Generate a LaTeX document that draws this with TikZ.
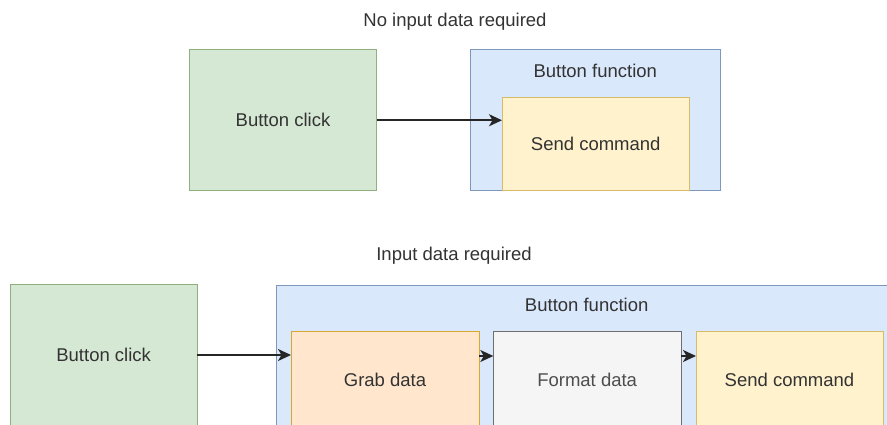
\documentclass[tikz,border=0pt]{standalone}
\usepackage{fontspec}
\setmainfont{Liberation Sans}
\usetikzlibrary{arrows.meta}

\definecolor{greenfill}{HTML}{D5E8D4}
\definecolor{greenline}{HTML}{8FAF80}
\definecolor{bluefill}{HTML}{DAE8FC}
\definecolor{blueline}{HTML}{7F97BA}
\definecolor{yellowfill}{HTML}{FFF2CC}
\definecolor{yellowline}{HTML}{D6BB6A}
\definecolor{orangefill}{HTML}{FFE6CC}
\definecolor{orangeline}{HTML}{D9A62E}
\definecolor{greyfill}{HTML}{F5F5F5}
\definecolor{greyline}{HTML}{6E6E6E}
\definecolor{txt}{HTML}{333333}
\definecolor{txtlight}{HTML}{4D4D4D}

\tikzset{
  every node/.style={inner sep=0pt, outer sep=0pt, text=txt,
    font=\fontsize{18.5}{20}\selectfont},
  box/.style={draw, line width=1pt, rectangle},
  greenbox/.style={box, fill=greenfill, draw=greenline},
  bluebox/.style={box, fill=bluefill, draw=blueline},
  yellowbox/.style={box, fill=yellowfill, draw=yellowline},
  orangebox/.style={box, fill=orangefill, draw=orangeline},
  greybox/.style={box, fill=greyfill, draw=greyline, text=txtlight},
  caption/.style={anchor=base},
  arr/.style={line width=1.6pt, draw=black!85,
    -{Stealth[length=13pt, width=12pt, inset=3.5pt]}},
}

\begin{document}
\begin{tikzpicture}[x=1pt, y=-1pt]
  \useasboundingbox (0,0) rectangle (887,425);
  \clip (0,0) rectangle (887,425);
  \fill[white] (0,0) rectangle (887,425);

  % --- upper diagram: no input data ---
  \node[caption] (title1) at (455,26.7) {No input data required};

  \node[greenbox, minimum width=187.4pt, minimum height=140.5pt]
    (click1) at (283,120.25) {Button click};
  \node[bluebox, minimum width=249.5pt, minimum height=140.5pt]
    (func1) at (595.25,120.25) {};
  \node[caption] (func1label) at (595.25,78) {Button function};
  \node[yellowbox, minimum width=187.5pt, minimum height=92.8pt]
    (send1) at (595.75,144.1) {Send command};

  \draw[arr] (click1.east) -- (click1.east -| send1.west);

  % --- lower diagram: input data required ---
  \node[caption] (title2) at (454,260) {Input data required};

  \node[greenbox, minimum width=187.3pt, minimum height=142pt]
    (click2) at (103.65,355) {Button click};
  \node[bluebox, minimum width=621pt, minimum height=155pt]
    (func2) at (586.5,362.5) {};
  \node[caption] (func2label) at (586.7,311) {Button function};
  \node[orangebox, minimum width=188pt, minimum height=98pt]
    (grab) at (385,380) {Grab data};
  \node[greybox, minimum width=187.7pt, minimum height=98pt]
    (format) at (587.15,380) {Format data};
  \node[yellowbox, minimum width=187pt, minimum height=98pt]
    (send2) at (789.5,380) {Send command};

  \draw[arr] (click2.east) -- (click2.east -| grab.west);
  \draw[arr] ([yshift=-1pt]grab.east |- click2.east) -- ([yshift=-1pt]click2.east -| format.west);
  \draw[arr] ([yshift=-1pt]format.east |- click2.east) -- ([yshift=-1pt]click2.east -| send2.west);
\end{tikzpicture}
\end{document}
